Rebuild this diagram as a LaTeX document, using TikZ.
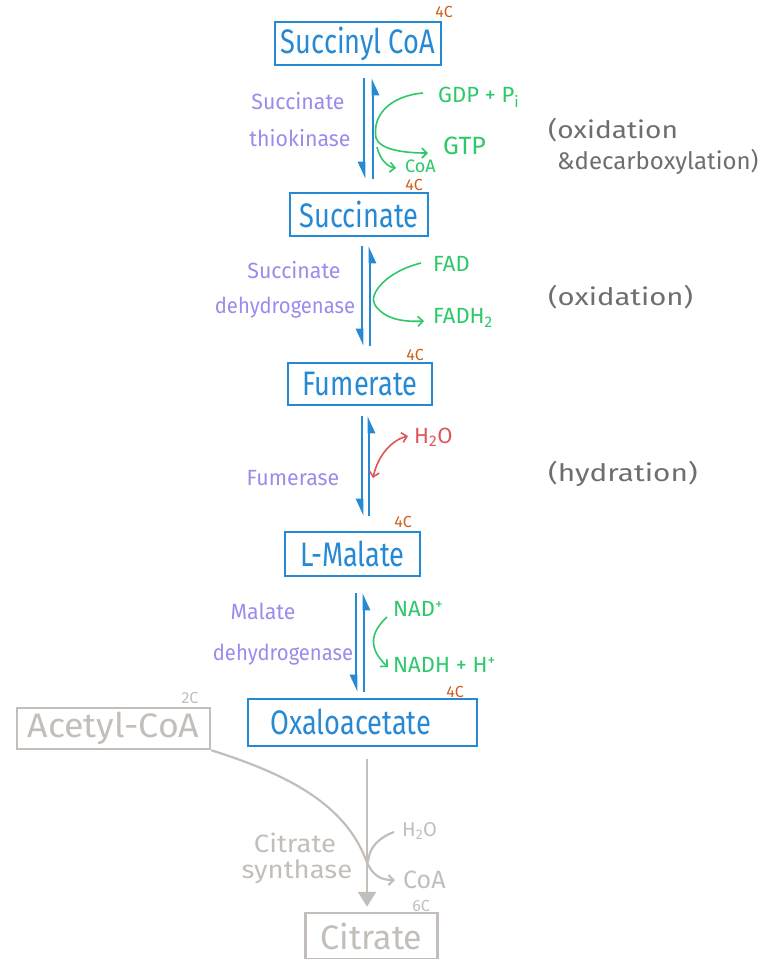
\documentclass[tikz,border=0pt]{standalone}
\usepackage{fontspec}
\setmainfont{Fira Sans}
\usetikzlibrary{arrows.meta,calc}
\definecolor{cblue}{RGB}{38,137,212}
\definecolor{corange}{RGB}{205,95,25}
\definecolor{cpurple}{RGB}{155,140,235}
\definecolor{cgreen}{RGB}{45,200,105}
\definecolor{cred}{RGB}{225,85,85}
\definecolor{cdgray}{RGB}{110,110,110}
\definecolor{clgray}{RGB}{195,190,185}
\newcommand{\hw}[2][0.8]{\scalebox{#1}[1]{#2}}
\newcommand{\fs}[1]{\fontsize{#1}{#1}\selectfont}
\tikzset{
  box/.style={draw=cblue, line width=2.5pt, text=cblue, inner sep=0pt, font=\fs{34}},
  gbox/.style={draw=clgray, line width=2.5pt, text=clgray, inner sep=0pt, font=\fs{34}},
  fwd/.style={draw=cblue, line width=2.6pt, -{Triangle[right,length=14pt,width=12pt]}},
  enz/.style={text=cpurple, font=\fs{22}, inner sep=0pt},
  cof/.style={text=cgreen, font=\fs{22}, inner sep=0pt},
  carb/.style={text=corange, font=\fs{16}, inner sep=0pt},
  note/.style={text=cdgray, font=\fs{24}, inner sep=0pt, anchor=west},
  garr/.style={draw=cgreen, line width=1.6pt, -{Straight Barb[length=5pt,width=10pt]}},
  lgt/.style={text=clgray, inner sep=0pt},
}
\begin{document}
\begin{tikzpicture}[x=1pt,y=-1pt]
\useasboundingbox (0,0) rectangle (769,959);
% metabolite boxes
\node[box, minimum width=166pt, minimum height=43pt] (sca) at (358,43.5) {\hw{Succinyl CoA}};
\node[box, minimum width=138pt, minimum height=43pt] (suc) at (359,214.5) {\hw{Succinate}};
\node[box, minimum width=144pt, minimum height=42pt] (fum) at (360,384) {\hw{Fumerate}};
\node[box, minimum width=135pt, minimum height=44pt] (mal) at (352.5,554) {\hw{L-Malate}};
\node[box, minimum width=229pt, minimum height=47pt] (oaa) at (362.5,722.5) {};
\node[text=cblue, font=\fs{34}, inner sep=0pt] (oaat) at (351,722) {\hw{Oxaloacetate}};
\node[gbox, minimum width=193pt, minimum height=41pt] (acoa) at (113.5,728.5) {\hw[1.05]{Acetyl-CoA}};
\node[gbox, minimum width=132pt, minimum height=46pt] (cit) at (371.5,936) {\hw[1.0]{Citrate}};
% carbon counts
\node[carb] (c1) at (444,12) {4C};
\node[carb] (c2) at (414,185) {4C};
\node[carb] (c3) at (415,355) {4C};
\node[carb] (c4) at (403,522) {4C};
\node[carb] (c5) at (455,692) {4C};
\node[carb, text=clgray] (c6) at (190,698) {2C};
\node[carb, text=clgray] (c7) at (421,906) {6C};
% reversible arrows
\draw[fwd] ($(sca.south)+(6,12)$) -- ($(suc.north)+(5,-13)$);
\draw[fwd] ($(suc.north)+(14,-13)$) -- ($(sca.south)+(15,12)$);
\draw[fwd] ($(suc.south)+(3,9)$) -- ($(fum.north)+(2,-16)$);
\draw[fwd] ($(fum.north)+(10,-16)$) -- ($(suc.south)+(11,9)$);
\draw[fwd] ($(fum.south)+(2,10)$) -- ($(mal.north)+(9.5,-15)$);
\draw[fwd] ($(mal.north)+(16.5,-15)$) -- ($(fum.south)+(9,10)$);
\draw[fwd] ($(mal.south)+(3.5,16)$) -- ($(oaa.north)+(-6.5,-6)$);
\draw[fwd] ($(oaa.north)+(1.5,-6)$) -- ($(mal.south)+(11.5,16)$);
% enzymes
\node[enz] (e1a) at (298,101) {\hw[0.97]{Succinate}};
\node[enz] (e1b) at (300,138) {\hw[0.97]{thiokinase}};
\node[enz] (e2a) at (294,270) {\hw[0.97]{Succinate}};
\node[enz] (e2b) at (285,308) {\hw[0.92]{dehydrogenase}};
\node[enz] (e3) at (293,478) {\hw[0.97]{Fumerase}};
\node[enz] (e4a) at (263,611) {\hw[0.97]{Malate}};
\node[enz] (e4b) at (283,655) {\hw[0.92]{dehydrogenase}};
% cofactors step 1
\node[cof, anchor=west] (gdp) at (438,97) {GDP + P\textsubscript{i}};
\node[cof, anchor=west, font=\fs{25}] (gtp) at (443,146) {GTP};
\node[cof, anchor=west, font=\fs{18}] (coa) at (405,166) {CoA};
\coordinate (b1) at (376,138);
\draw[garr] ($(gdp.west)+(-15,-4)$) .. controls (390,96) and (372,115) .. (b1) .. controls (380,150) and (405,153) .. ($(gtp.west)+(-15,7)$);
\draw[garr] (377,147) .. controls (380,160) and (388,167) .. ($(coa.west)+(-9,2)$);
% step 2
\node[cof, anchor=west] (fad) at (433,264) {FAD};
\node[cof, anchor=west] (fadh) at (433,318) {FADH\textsubscript{2}};
\draw[garr] ($(fad.west)+(-12,-1)$) .. controls (385,272) and (368,295) .. (375,305) .. controls (385,320) and (405,322) .. ($(fadh.west)+(-9,3)$);
% step 3
\node[text=cred, font=\fs{22}, inner sep=0pt, anchor=west] (h2o) at (414,437) {H\textsubscript{2}O};
\draw[draw=cred, line width=1.6pt, {Straight Barb[length=5pt,width=10pt]}-{Straight Barb[length=5pt,width=10pt]}] (373,478) .. controls (378,455) and (392,440) .. ($(h2o.west)+(-6,-1)$);
% step 4
\node[cof, anchor=west] (nad) at (393,609) {NAD\textsuperscript{+}};
\node[cof, anchor=west] (nadh) at (393,665) {NADH + H\textsuperscript{+}};
\draw[garr] ($(nad.west)+(-6,8)$) .. controls (375,628) and (364,645) .. ($(nadh.west)+(-5,2)$);
% reaction type notes
\node[note] (n1) at (548,130) {\hw[1.17]{(oxidation}};
\node[note] (n2) at (557,162) {\hw[1.0]{\&decarboxylation)}};
\node[note] (n3) at (548,297) {\hw[1.22]{(oxidation)}};
\node[note] (n4) at (548,474) {\hw[1.24]{(hydration)}};
% citrate synthase step
\node[lgt, font=\fs{25}] (cs1) at (295,843) {\hw[1.1]{Citrate}};
\node[lgt, font=\fs{25}] (cs2) at (297,872) {\hw[1.1]{synthase}};
\node[lgt, font=\fs{20}, anchor=west] (h2o2) at (402,831) {H\textsubscript{2}O};
\node[lgt, font=\fs{25}, anchor=west] (coa2) at (403,880) {CoA};
\draw[draw=clgray, line width=2.4pt, -{Triangle[length=15pt,width=18pt]}] ($(oaa.south)+(4.5,12)$) -- ($(cit.north)+(-4.5,-5)$);
\draw[draw=clgray, line width=2.2pt, -{Straight Barb[length=5pt,width=10pt]}] (acoa.south east) .. controls (290,775) and (345,805) .. (366,860) .. controls (372,875) and (380,880) .. ($(coa2.west)+(-8,0)$);
\draw[draw=clgray, line width=2.2pt] ($(h2o2.west)+(-8,1)$) .. controls (378,838) and (369,848) .. (368,862);
\end{tikzpicture}
\end{document}
